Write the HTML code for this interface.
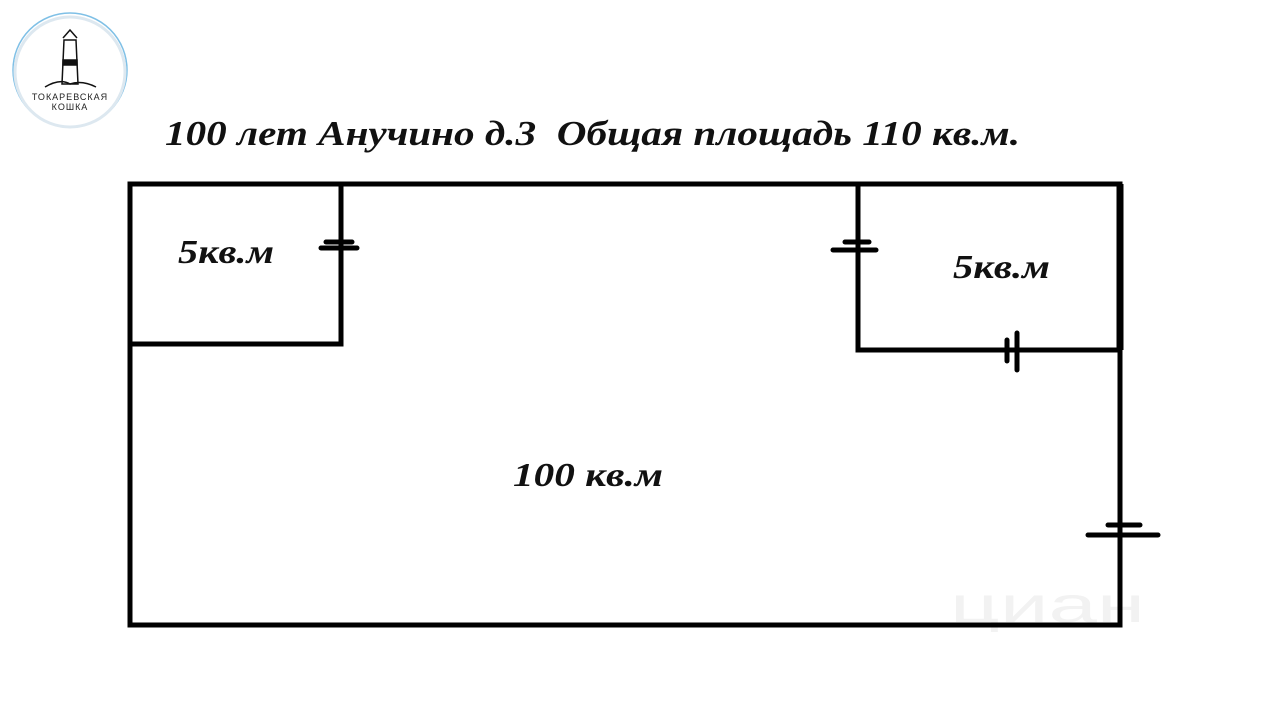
<!DOCTYPE html>
<html><head><meta charset="utf-8"><style>
body{margin:0;width:1280px;height:720px;background:#fff;overflow:hidden;font-family:"Liberation Serif",serif}
svg{position:absolute;left:0;top:0}
</style></head><body>
<svg width="1280" height="720" viewBox="0 0 1280 720">
<text x="950" y="622" font-size="50" font-family="Liberation Sans" fill="#f2f2f2" textLength="195" lengthAdjust="spacingAndGlyphs">циан</text>
<circle cx="70" cy="70" r="57" fill="none" stroke="#7fc0e6" stroke-width="1.5"/>
<circle cx="70" cy="72" r="55" fill="none" stroke="#dde8f0" stroke-width="3"/>
<g stroke="#111" fill="none" stroke-width="1.5">
<path d="M64 40 L76 40 L78 84 L62 84 Z"/><path d="M63 38 L70 30 L77 38"/>
<rect x="63" y="60" width="14" height="5" fill="#111"/>
<path d="M45 87 Q60 78 70 84 Q82 80 96 87"/>
</g>
<text x="70" y="100" font-size="9" text-anchor="middle" font-family="Liberation Sans" fill="#222" letter-spacing="1">ТОКАРЕВСКАЯ</text>
<text x="70" y="110" font-size="9" text-anchor="middle" font-family="Liberation Sans" fill="#222" letter-spacing="1">КОШКА</text>
<text x="165" y="145" font-size="35" font-weight="bold" font-style="italic" fill="#111" textLength="855" lengthAdjust="spacingAndGlyphs" xml:space="preserve">100 лет Анучино д.3  Общая площадь 110 кв.м.</text>
<g stroke="#000" fill="none" stroke-linecap="butt">
<path d="M130 184 L1120 184 L1120 625 L130 625 Z" stroke-width="5"/>
<path d="M1120 184 L1120 350" stroke-width="7"/>
<path d="M341 184 L341 344 L130 344" stroke-width="5"/>
<path d="M858 184 L858 350 L1120 350" stroke-width="5"/>
</g>
<g stroke="#000" stroke-width="5" stroke-linecap="round">
<line x1="326" y1="242" x2="352" y2="242"/><line x1="321" y1="248" x2="357" y2="248"/>
<line x1="845" y1="242" x2="869" y2="242"/><line x1="833" y1="250" x2="876" y2="250"/>
<line x1="1007" y1="340" x2="1007" y2="361"/><line x1="1017" y1="333" x2="1017" y2="370"/>
<line x1="1108" y1="525" x2="1140" y2="525"/><line x1="1088" y1="535" x2="1158" y2="535"/>
</g>
<text x="178" y="263" font-size="34" font-weight="bold" font-style="italic" fill="#111" textLength="96" lengthAdjust="spacingAndGlyphs">5кв.м</text>
<text x="953" y="278" font-size="34" font-weight="bold" font-style="italic" fill="#111" textLength="97" lengthAdjust="spacingAndGlyphs">5кв.м</text>
<text x="513" y="486" font-size="34" font-weight="bold" font-style="italic" fill="#111" textLength="150" lengthAdjust="spacingAndGlyphs">100 кв.м</text>
</svg>
</body></html>
